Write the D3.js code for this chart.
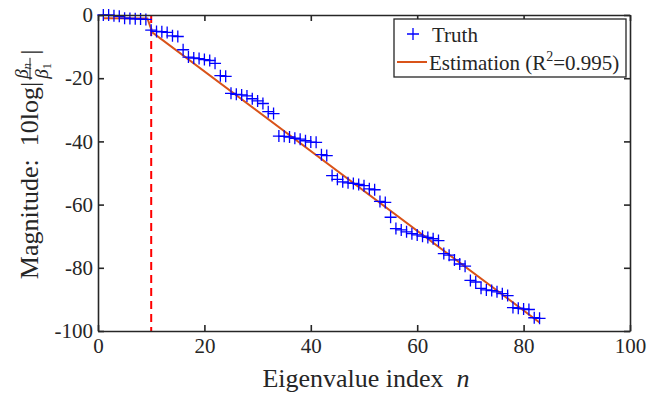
<!DOCTYPE html>
<html>
<head>
<meta charset="utf-8">
<script src="https://cdn.jsdelivr.net/npm/d3@7"></script>
<style>
  body { margin: 0; background: #fff; }
  svg text { font-family: "Liberation Serif", "Times New Roman", "DejaVu Serif", serif !important; fill: #262626; white-space: pre; }
</style>
</head>
<body>
<div id="chart"></div>
<script>
/* data: index n and magnitude in dB */
const truthN = d3.range(1, 84);
const truthVal = [
  0, 0, -0.2, -0.4, -1.0, -1.1, -1.2, -1.3, -1.4, -4.8,
  -5.2, -5.3, -5.5, -6.6, -6.8, -11, -13.3, -13.6, -13.8, -14.1,
  -14.4, -15.3, -19.2, -19.4, -24.8, -25.1, -25.3, -25.6, -26.5, -27.2,
  -28, -30.6, -31.2, -38.3, -38.4, -38.6, -39, -39.3, -39.8, -40.2,
  -40.3, -44.2, -44.5, -50.8, -52, -52.8, -53.1, -53.3, -53.6, -54,
  -55, -55.3, -59, -59.3, -64, -67.6, -68, -68.6, -69.2, -69.6,
  -70, -70.4, -70.8, -71.4, -75.5, -76, -77.5, -78.8, -79.5, -84,
  -84.5, -86.5, -87, -87.2, -87.6, -88.2, -88.8, -92.6, -92.8, -93,
  -93.2, -95.8, -96
];
const estN = [1, 9.3, 10.2, 83];
const estVal = [-1, -1.1, -5.5, -97.3];
const cutoffN = 10;
const xTicks = [0, 20, 40, 60, 80, 100];
const yTicks = [0, -20, -40, -60, -80, -100];

const W = 648, H = 393;
const mLeft = 98, mRight = 630, mTop = 15, mBottom = 331;

const svg = d3.select("#chart").append("svg")
  .attr("width", W).attr("height", H);

const x = d3.scaleLinear().domain([0, 100]).range([mLeft, mRight]);
const y = d3.scaleLinear().domain([-100, 0]).range([mBottom, mTop]);

/* dashed cutoff */
svg.append("line")
  .attr("x1", x(cutoffN)).attr("x2", x(cutoffN))
  .attr("y1", y(0)).attr("y2", y(-100))
  .attr("stroke", "#ff0000").attr("stroke-width", 2)
  .attr("stroke-dasharray", "8,5");

/* estimation line */
const est = estN.map((n, i) => [n, estVal[i]]);
svg.append("path")
  .datum(est)
  .attr("d", d3.line().x(d => x(d[0])).y(d => y(d[1])))
  .attr("fill", "none").attr("stroke", "#d95319").attr("stroke-width", 2);

/* truth markers */
const plus = (cx, cy, r) => `M${cx - r},${cy}H${cx + r}M${cx},${cy - r}V${cy + r}`;
svg.append("g").selectAll("path")
  .data(truthN.map((n, i) => [n, truthVal[i]]))
  .join("path")
  .attr("d", d => plus(x(d[0]), y(d[1]), 6))
  .attr("stroke", "#0000ff").attr("stroke-width", 1.3).attr("fill", "none");

/* axes, MATLAB box style with inward ticks */
const axCol = "#262626";
const gx = svg.append("g").attr("transform", `translate(0,${mBottom})`)
  .call(d3.axisBottom(x).tickValues(xTicks).tickSizeInner(-6).tickSizeOuter(0).tickPadding(7));
const gxTop = svg.append("g").attr("transform", `translate(0,${mTop})`)
  .call(d3.axisTop(x).tickValues(xTicks).tickSizeInner(-6).tickSizeOuter(0).tickFormat(""));
const gy = svg.append("g").attr("transform", `translate(${mLeft},0)`)
  .call(d3.axisLeft(y).tickValues(yTicks).tickSizeInner(-6).tickSizeOuter(0).tickPadding(5)
    .tickFormat(d => d < 0 ? "-" + Math.abs(d) : d));
const gyR = svg.append("g").attr("transform", `translate(${mRight},0)`)
  .call(d3.axisRight(y).tickValues(yTicks).tickSizeInner(-6).tickSizeOuter(0).tickFormat(""));
[gx, gxTop, gy, gyR].forEach(g => {
  g.attr("font-family", null).attr("font-size", null);
  g.select(".domain").attr("stroke", axCol).attr("stroke-width", 1.6);
  g.selectAll(".tick line").attr("stroke", axCol).attr("stroke-width", 1.6);
  g.selectAll("text").attr("font-size", 21).attr("fill", axCol);
});

/* x label */
const xl = svg.append("text").attr("x", 366).attr("y", 387)
  .attr("text-anchor", "middle").attr("font-size", 26);
xl.append("tspan").text("Eigenvalue index  ");
xl.append("tspan").attr("font-style", "italic").text("n");

/* y label with fraction */
const yl = svg.append("g");
const t1 = yl.append("text").attr("font-size", 26).attr("y", 0).text("Magnitude:  10log|");
const w1 = t1.node().getComputedTextLength();
const fx = w1 + 3;
yl.append("text").attr("x", fx).attr("y", -10).attr("font-size", 19).attr("font-style", "italic")
  .text("β").append("tspan").attr("font-size", 13).attr("dy", 3).text("n");
yl.append("line").attr("x1", fx - 1).attr("x2", fx + 21).attr("y1", -8).attr("y2", -8)
  .attr("stroke", axCol).attr("stroke-width", 1);
yl.append("text").attr("x", fx).attr("y", 10).attr("font-size", 19).attr("font-style", "italic")
  .text("β").append("tspan").attr("font-size", 13).attr("dy", 3).attr("font-style", "normal").text("1");
yl.append("text").attr("x", fx + 24).attr("y", 0).attr("font-size", 26).text("|");
const totalW = fx + 30;
yl.attr("transform", `translate(38,${164 + totalW / 2}) rotate(-90)`);

/* legend */
const lg = svg.append("g");
lg.append("rect").attr("x", 394).attr("y", 19).attr("width", 232).attr("height", 58)
  .attr("fill", "#fff").attr("stroke", axCol).attr("stroke-width", 1.3);
lg.append("path").attr("d", plus(413, 34, 6))
  .attr("stroke", "#0000ff").attr("stroke-width", 1.3);
lg.append("text").attr("x", 432).attr("y", 42).attr("font-size", 21).text("Truth");
lg.append("line").attr("x1", 397).attr("x2", 427).attr("y1", 62).attr("y2", 62)
  .attr("stroke", "#d95319").attr("stroke-width", 2);
const lt = lg.append("text").attr("x", 429).attr("y", 70).attr("font-size", 21);
lt.append("tspan").text("Estimation (R");
lt.append("tspan").attr("font-size", 14).attr("dy", -9).text("2");
lt.append("tspan").attr("dy", 9).text("=0.995)");
</script>
</body>
</html>
